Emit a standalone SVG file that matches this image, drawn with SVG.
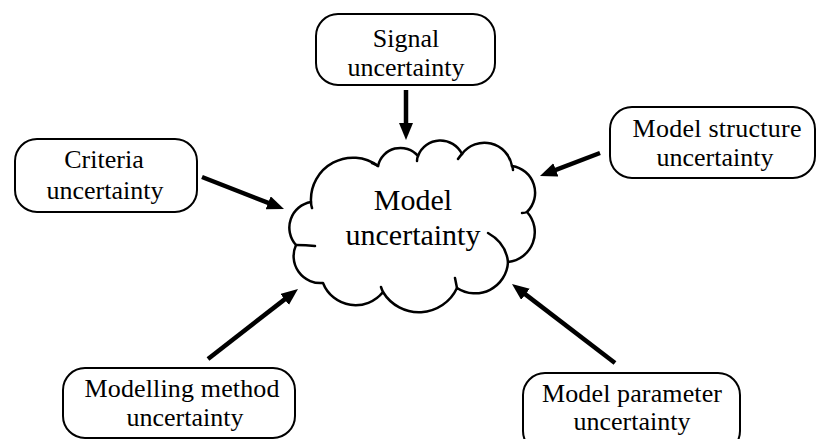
<svg xmlns="http://www.w3.org/2000/svg" width="817" height="439" viewBox="0 0 817 439">
<style>
.box{fill:#fff;stroke:#000;stroke-width:2}
.t{font-family:"Liberation Serif","Times New Roman",serif;font-size:26px;fill:#000;text-anchor:middle}
.tm{font-family:"Liberation Serif","Times New Roman",serif;font-size:30px;fill:#000;text-anchor:middle}
.arr{stroke:#000;stroke-width:4.5;fill:none;marker-end:url(#ah)}
.cloud{fill:#fff;stroke:#000;stroke-width:2.5;stroke-linejoin:round}
.tick{fill:none;stroke:#000;stroke-width:2.5;stroke-linecap:round}
</style>
<defs>
<marker id="ah" markerUnits="userSpaceOnUse" markerWidth="18" markerHeight="16" refX="7" refY="7" orient="auto">
<path d="M0,0 L17,7 L0,14 Z" fill="#000"/>
</marker>
</defs>
<rect width="817" height="439" fill="#fff"/>
<g id="cloud">
<path class="cloud" d="M311,202 A42,42 0 0 1 378,166 A23,23 0 0 1 418,156 A24,24 0 0 1 462,154 A28,28 0 0 1 512,166 A27,27 0 0 1 527,212 A30,30 0 0 1 508,262 A33,33 0 0 1 457,288 A42,42 0 0 1 383,292 A35,35 0 0 1 323,283 A27,27 0 0 1 296,245 A26,26 0 0 1 311,202 Z"/>
<path class="tick" d="M378,166 Q375,164 372,163 M418,156 Q417,158 417,161 M462,154 Q460,156 458,159 M512,166 Q513,168 513,170 M527,212 Q525,213 522,213 M488,233 Q506,243 508,262 M457,288 Q456,283 455,278 M383,292 Q382,290 381,287 M296,245 Q306,245 315,246 M311,202 Q311,205 312,208"/>
<text class="tm" x="413" y="210">Model</text>
<text class="tm" x="413" y="245">uncertainty</text>
</g>
<g id="signal">
<rect class="box" x="316" y="14" width="179" height="71" rx="22"/>
<text class="t" x="406" y="47">Signal</text>
<text class="t" x="406" y="76">uncertainty</text>
</g>
<g id="criteria">
<rect class="box" x="15" y="139" width="182" height="73" rx="22"/>
<text class="t" x="104" y="168">Criteria</text>
<text class="t" x="105" y="199">uncertainty</text>
</g>
<g id="structure">
<rect class="box" x="610" y="107" width="205" height="71" rx="22"/>
<text class="t" x="717" y="137" textLength="169" lengthAdjust="spacing">Model structure</text>
<text class="t" x="715" y="166">uncertainty</text>
</g>
<g id="method">
<rect class="box" x="63" y="368" width="232" height="70" rx="22"/>
<text class="t" x="182" y="397" textLength="195" lengthAdjust="spacing">Modelling method</text>
<text class="t" x="185" y="426">uncertainty</text>
</g>
<g id="parameter">
<rect class="box" x="523" y="373" width="217" height="80" rx="22"/>
<text class="t" x="632" y="402" textLength="180" lengthAdjust="spacing">Model parameter</text>
<text class="t" x="632" y="430">uncertainty</text>
</g>
<g id="connectors">
<line class="arr" x1="406" y1="90" x2="406" y2="130"/>
<line class="arr" x1="202" y1="177" x2="274.7" y2="205.4"/>
<line class="arr" x1="600" y1="153" x2="549.3" y2="172.4"/>
<line class="arr" x1="208" y1="359" x2="290.1" y2="295.1"/>
<line class="arr" x1="615" y1="363" x2="519.9" y2="290.1"/>
</g>
</svg>
